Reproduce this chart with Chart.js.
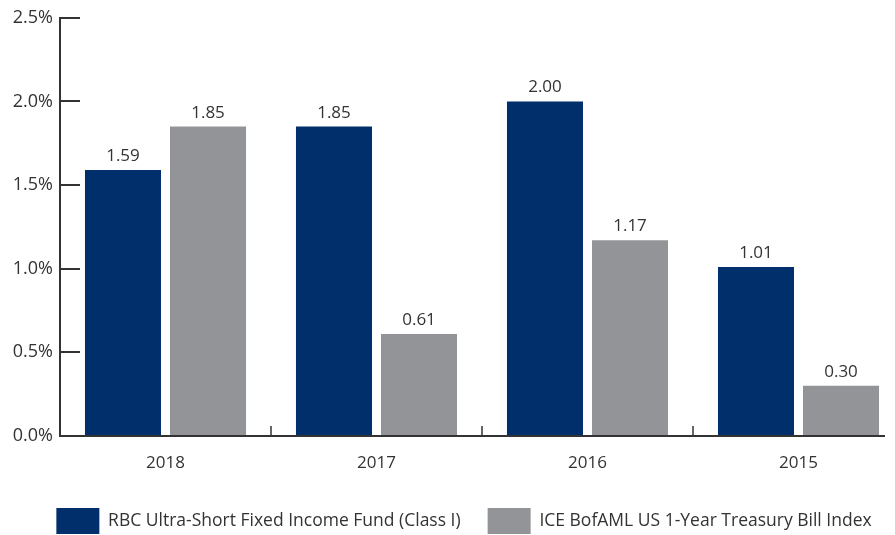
<!DOCTYPE html>
<html>
<head>
<meta charset="utf-8">
<script src="https://cdn.jsdelivr.net/npm/chart.js@4.4.0/dist/chart.umd.min.js"></script>
<style>
  html, body { margin: 0; padding: 0; background: #fff; overflow: hidden; }
  .wrap { width: 905px; height: 544px; }
</style>
</head>
<body>
<div class="wrap"><canvas id="myChart"></canvas></div>
<script>
const categories = ['2018', '2017', '2016', '2015'];
const fundValues = [1.59, 1.85, 2.00, 1.01];   // RBC fund
const indexValues = [1.85, 0.61, 1.17, 0.30];  // ICE BofAML index
const yTicks = [0, 0.5, 1.0, 1.5, 2.0, 2.5];

const navy = '#002f6c';
const grey = '#929497';
const ink = '#333333';
const font = '"Open Sans", sans-serif';

// draws the inward ticks, x axis line, group separators and bar labels
const extras = {
  id: 'extras',
  afterLayout(chart) {
    // legend sits a bit right of centre in the original
    chart.legend.left += 10;
    chart.legend.right += 10;
  },
  afterDraw(chart) {
    const c = chart.ctx, x = chart.scales.x, y = chart.scales.y;
    const area = chart.chartArea;
    c.save();
    c.strokeStyle = ink;
    c.lineWidth = 2;
    yTicks.forEach(v => {
      const py = Math.round(y.getPixelForValue(v));
      c.beginPath();
      c.moveTo(area.left, py);
      c.lineTo(area.left + 20, py);
      c.stroke();
    });
    c.beginPath();
    c.moveTo(area.left, area.bottom);
    c.lineTo(885, area.bottom);
    c.stroke();
    c.lineWidth = 1.5;
    for (let i = 1; i < categories.length; i++) {
      const px = Math.round((x.getPixelForValue(i - 1) + x.getPixelForValue(i)) / 2);
      c.beginPath();
      c.moveTo(px, area.bottom - 10);
      c.lineTo(px, area.bottom);
      c.stroke();
    }
    c.fillStyle = ink;
    c.font = '17px ' + font;
    c.textAlign = 'center';
    c.textBaseline = 'alphabetic';
    chart.data.datasets.forEach((ds, di) => {
      chart.getDatasetMeta(di).data.forEach((bar, i) => {
        c.fillText(ds.data[i].toFixed(2), bar.x, bar.y - 9);
      });
    });
    c.restore();
  }
};

const ctx = document.getElementById('myChart');
const myChart = new Chart(ctx, {
  type: 'bar',
  data: {
    labels: categories,
    datasets: [
      {
        label: 'RBC Ultra-Short Fixed Income Fund (Class I)',
        data: fundValues,
        backgroundColor: navy,
        barPercentage: 0.894,
        categoryPercentage: 0.806
      },
      {
        label: 'ICE BofAML US 1-Year Treasury Bill Index',
        data: indexValues,
        backgroundColor: grey,
        barPercentage: 0.894,
        categoryPercentage: 0.806
      }
    ]
  },
  options: {
    responsive: true,
    maintainAspectRatio: false,
    animation: false,
    layout: { padding: { top: 15, right: 1, left: 4, bottom: 0 } },
    plugins: {
      tooltip: { enabled: false },
      legend: {
        position: 'bottom',
        labels: {
          boxWidth: 43,
          boxHeight: 26,
          padding: 27,
          color: ink,
          font: { family: font, size: 17.5 }
        }
      }
    },
    scales: {
      x: {
        grid: { display: false },
        border: { display: false },
        afterFit: (s) => { s.height = 45; },
        ticks: { color: ink, font: { family: font, size: 17 }, padding: 9 }
      },
      y: {
        min: 0,
        max: 2.5,
        grid: { display: false, drawTicks: false, tickLength: 0 },
        border: { display: true, color: ink, width: 2 },
        afterFit: (s) => { s.width = 56; },
        afterBuildTicks: (s) => { s.ticks = yTicks.map(v => ({ value: v })); },
        ticks: {
          color: ink,
          padding: 7,
          font: { family: font, size: 18 },
          callback: (v) => v.toFixed(1) + '%'
        }
      }
    }
  },
  plugins: [extras]
});
</script>
</body>
</html>
